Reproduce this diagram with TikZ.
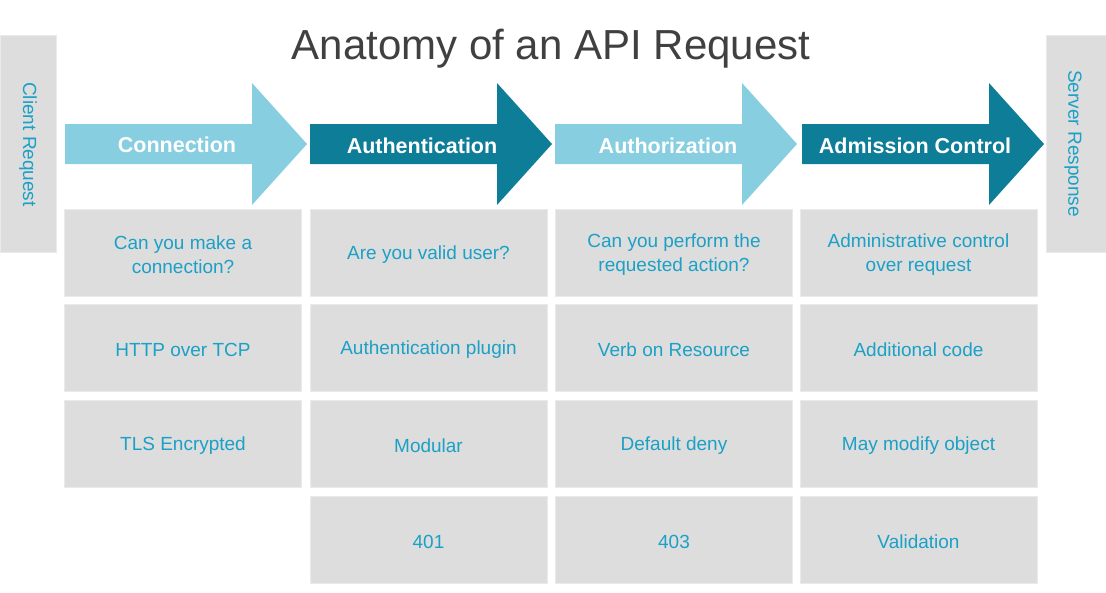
\documentclass[tikz,border=0pt]{standalone}
\usepackage{fontspec}
\setmainfont{Liberation Sans}
\definecolor{lightarrow}{HTML}{86CEE0}
\definecolor{darkarrow}{HTML}{0D7D98}
\definecolor{celltext}{HTML}{1BA0C6}
\definecolor{cellfill}{HTML}{DDDDDD}
\definecolor{celledge}{HTML}{EAEAEA}
\definecolor{titlegray}{HTML}{404040}
\tikzset{
  cell/.style={fill=cellfill, draw=celledge, line width=1pt, minimum width=237pt, minimum height=87pt, inner sep=0pt},
  celllbl/.style={inner sep=0pt, align=center, text=celltext, font=\fontsize{19}{24}\selectfont, yshift=-2pt},
  sidebox/.style={fill=cellfill, draw=celledge, line width=1pt, minimum width=56pt, minimum height=217pt, inner sep=0pt},
  sidetext/.style={text=celltext, font=\fontsize{19}{24}\selectfont, rotate=-90},
  arrowtext/.style={text=white, font=\fontsize{21.5}{26}\selectfont\bfseries},
}
\newcommand{\stagearrow}[2]{% x0, colour
  \fill[#2] (#1,124) -- (#1+187,124) -- (#1+187,83) -- (#1+242,144) -- (#1+187,205) -- (#1+187,164) -- (#1,164) -- cycle;
}
\newcommand{\cellat}[3]{% name, position, text
  \node[cell] (#1) at (#2) {};
  \node[celllbl] (#1t) at (#1.center) {#3};
}
\begin{document}
\begin{tikzpicture}[x=1pt,y=-1pt]
\useasboundingbox (0,0) rectangle (1106,592);
% title
\node[text=titlegray, font=\fontsize{42}{48}\selectfont] (title) at (551,49) {Anatomy of an API Request};
% side boxes
\node[sidebox] (client) at (28,143.5) {};
\node[sidetext] (clientlbl) at (28,144.5) {Client Request};
\node[sidebox, minimum width=60pt] (server) at (1076,143.5) {};
\node[sidetext] (serverlbl) at (1073,143.5) {Server Response};
% arrows
\stagearrow{65}{lightarrow}
\stagearrow{310}{darkarrow}
\stagearrow{555}{lightarrow}
\stagearrow{802}{darkarrow}
\node[arrowtext] (conn) at (177,144.5) {Connection};
\node[arrowtext] (authn) at (422,145.5) {Authentication};
\node[arrowtext] (authz) at (668,145.5) {Authorization};
\node[arrowtext] (adm) at (915,145.5) {Admission Control};
% column 1
\cellat{c11}{183,252.5}{Can you make a\\connection?}
\cellat{c12}{183,348}{HTTP over TCP}
\cellat{c13}{183,444}{TLS Encrypted}
% column 2
\cellat{c21}{428.5,252.5}{Are you valid user?}
\cellat{c22}{428.5,348}{Authentication plugin}
\cellat{c23}{428.5,444}{Modular}
\cellat{c24}{428.5,539.5}{401}
% column 3
\cellat{c31}{674,252.5}{Can you perform the\\requested action?}
\cellat{c32}{674,348}{Verb on Resource}
\cellat{c33}{674,444}{Default deny}
\cellat{c34}{674,539.5}{403}
% column 4
\cellat{c41}{918.5,252.5}{Administrative control\\over request}
\cellat{c42}{918.5,348}{Additional code}
\cellat{c43}{918.5,444}{May modify object}
\cellat{c44}{918.5,539.5}{Validation}
\end{tikzpicture}
\end{document}
